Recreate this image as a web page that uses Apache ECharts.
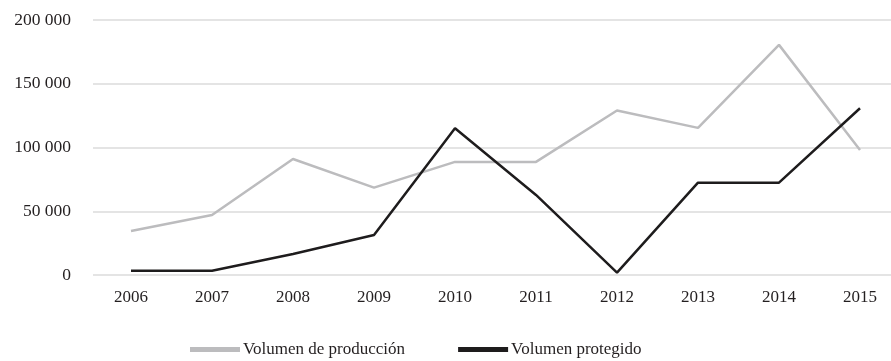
<!DOCTYPE html>
<html>
<head>
<meta charset="utf-8">
<script src="https://cdn.jsdelivr.net/npm/echarts@6/dist/echarts.min.js"></script>
<style>
  html, body { margin: 0; padding: 0; background: #fff; }
  #chart { width: 891px; height: 361px; }
</style>
</head>
<body>
<div id="chart"></div>
<script>
// Years on the horizontal axis
const years = [2006, 2007, 2008, 2009, 2010, 2011, 2012, 2013, 2014, 2015];
// Production volume per year
const produccion = [34500, 47000, 91000, 68500, 88700, 88700, 129000, 115400, 180500, 98000];
// Protected volume per year
const protegido = [3400, 3400, 16500, 31400, 115100, 62800, 1800, 72400, 72400, 130800];
// Value-axis tick labels
const yTicks = [0, 50000, 100000, 150000, 200000];

const serif = '"Liberation Serif", "DejaVu Serif", serif';
const fmtThousands = v => String(v).replace(/\B(?=(\d{3})+(?!\d))/g, ' ');

const chart = echarts.init(document.getElementById('chart'), null, { renderer: 'canvas' });
chart.setOption({
  animation: false,
  backgroundColor: '#ffffff',
  grid: { left: 93, right: 0, top: 20, bottom: 86 },
  xAxis: {
    type: 'value',
    min: 2006 - 38 / 81,
    max: 2015 + 31 / 81,
    axisLine: { show: false },
    axisTick: { show: false },
    splitLine: { show: false },
    axisLabel: {
      customValues: years,
      formatter: v => String(Math.round(v)),
      color: '#231f20',
      fontFamily: serif,
      fontSize: 17,
      margin: 14
    }
  },
  yAxis: {
    type: 'value',
    min: 0,
    max: 200000,
    interval: 50000,
    axisLine: { show: false },
    axisTick: { show: false },
    splitLine: { lineStyle: { color: '#e4e4e4', width: 2 } },
    axisLabel: {
      customValues: yTicks,
      formatter: fmtThousands,
      color: '#231f20',
      fontFamily: serif,
      fontSize: 17.5,
      margin: 22
    }
  },
  legend: {
    top: 341,
    left: 190,
    padding: 0,
    itemWidth: 50,
    itemHeight: 5,
    itemGap: 53,
    icon: 'rect',
    textStyle: { color: '#231f20', fontFamily: serif, fontSize: 17, padding: [0, 0, 0, -2] },
    data: ['Volumen de producción', 'Volumen protegido']
  },
  series: [
    {
      name: 'Volumen de producción',
      type: 'line',
      data: years.map((y, i) => [y, produccion[i]]),
      showSymbol: false,
      symbol: 'none',
      lineStyle: { color: '#bcbcbe', width: 2.5 },
      itemStyle: { color: '#bcbcbe' }
    },
    {
      name: 'Volumen protegido',
      type: 'line',
      data: years.map((y, i) => [y, protegido[i]]),
      showSymbol: false,
      symbol: 'none',
      lineStyle: { color: '#1e1c1d', width: 2.5 },
      itemStyle: { color: '#1e1c1d' }
    }
  ]
});
</script>
</body>
</html>
